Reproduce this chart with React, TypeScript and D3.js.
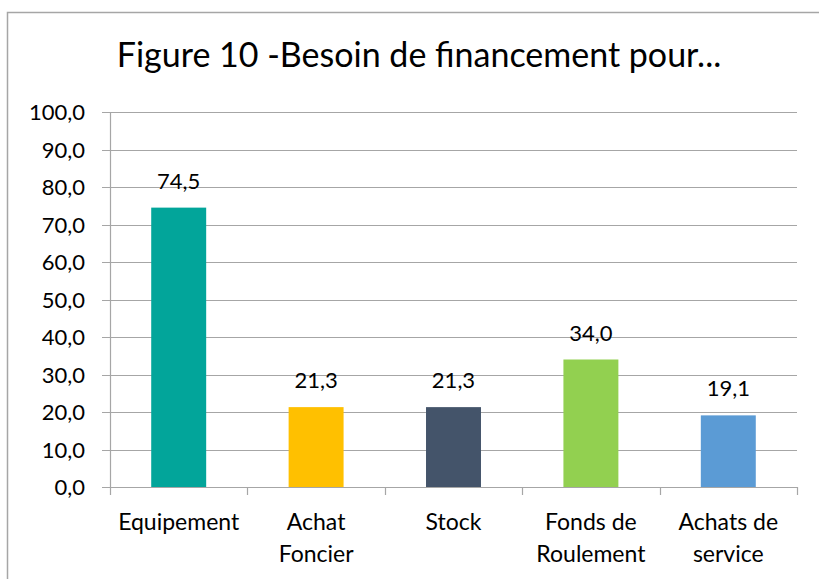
import React, { useEffect, useRef } from 'react';
import * as d3 from 'd3';

// Data
const categories: string[][] = [
  ['Equipement'],
  ['Achat', 'Foncier'],
  ['Stock'],
  ['Fonds de', 'Roulement'],
  ['Achats de', 'service'],
];
const values = [74.5, 21.3, 21.3, 34.0, 19.1];
const colors = ['#02A59A', '#FFC000', '#44546A', '#92D050', '#5B9BD5'];
const yTicks = [0, 10, 20, 30, 40, 50, 60, 70, 80, 90, 100];

const W = 819;
const H = 579;
const FONT = 'Lato, "Open Sans", sans-serif';

const fmt = (v: number) => v.toFixed(1).replace('.', ',');

const App = () => {
  const svgRef = useRef<SVGSVGElement>(null);

  useEffect(() => {
    const svg = d3.select(svgRef.current);
    svg.selectAll('*').remove();

    const left = 110;
    const right = 797;
    const top = 112;
    const bottom = 487;

    const x = d3.scaleBand<number>()
      .domain(d3.range(values.length))
      .range([left, right])
      .paddingInner(0.6)
      .paddingOuter(0.3);
    const y = d3.scaleLinear().domain([0, 100]).range([bottom, top]);

    // chart border
    svg.append('rect')
      .attr('x', 7.5).attr('y', 12.5)
      .attr('width', W).attr('height', H)
      .attr('fill', 'white')
      .attr('stroke', '#a6a6a6')
      .attr('stroke-width', 1.5);

    // title
    svg.append('text')
      .attr('x', 419).attr('y', 67)
      .attr('text-anchor', 'middle')
      .attr('font-family', FONT)
      .attr('font-size', 34)
      .attr('fill', '#000')
      .text('Figure 10 -Besoin de financement pour...');

    // gridlines + y ticks
    svg.append('g').selectAll('line')
      .data(yTicks)
      .enter().append('line')
      .attr('x1', left - 8).attr('x2', right)
      .attr('y1', d => Math.round(y(d)) + 0.5)
      .attr('y2', d => Math.round(y(d)) + 0.5)
      .attr('stroke', '#a6a6a6')
      .attr('stroke-width', 1.2);

    svg.append('g').selectAll('text')
      .data(yTicks)
      .enter().append('text')
      .attr('x', 85)
      .attr('y', d => y(d) + 8)
      .attr('text-anchor', 'end')
      .attr('font-family', FONT)
      .attr('font-size', 22)
      .attr('fill', '#000')
      .text(d => fmt(d));

    // y axis line
    svg.append('line')
      .attr('x1', left + 0.5).attr('x2', left + 0.5)
      .attr('y1', top).attr('y2', bottom)
      .attr('stroke', '#a6a6a6')
      .attr('stroke-width', 1.2);

    // category ticks
    const step = (right - left) / values.length;
    svg.append('g').selectAll('line')
      .data(d3.range(values.length + 1))
      .enter().append('line')
      .attr('x1', i => Math.round(left + i * step) + 0.5)
      .attr('x2', i => Math.round(left + i * step) + 0.5)
      .attr('y1', bottom).attr('y2', bottom + 8)
      .attr('stroke', '#a6a6a6')
      .attr('stroke-width', 1.2);

    // bars
    svg.append('g').selectAll('rect')
      .data(values)
      .enter().append('rect')
      .attr('x', (d, i) => x(i)!)
      .attr('width', x.bandwidth())
      .attr('y', d => y(d))
      .attr('height', d => bottom - y(d))
      .attr('fill', (d, i) => colors[i]);

    // x axis line on top of bars
    svg.append('line')
      .attr('x1', left).attr('x2', right)
      .attr('y1', bottom + 0.5).attr('y2', bottom + 0.5)
      .attr('stroke', '#a6a6a6')
      .attr('stroke-width', 1.2);

    // value labels
    svg.append('g').selectAll('text')
      .data(values)
      .enter().append('text')
      .attr('x', (d, i) => x(i)! + x.bandwidth() / 2)
      .attr('y', d => y(d) - 19)
      .attr('text-anchor', 'middle')
      .attr('font-family', FONT)
      .attr('font-size', 22)
      .attr('fill', '#000')
      .text(d => fmt(d));

    // category labels
    const labels = svg.append('g').selectAll('text')
      .data(categories)
      .enter().append('text')
      .attr('x', (d, i) => x(i)! + x.bandwidth() / 2)
      .attr('y', 530)
      .attr('text-anchor', 'middle')
      .attr('font-family', FONT)
      .attr('font-size', 23)
      .attr('fill', '#000');
    labels.selectAll('tspan')
      .data((d, i) => d.map(t => ({ t, cx: x(i)! + x.bandwidth() / 2 })))
      .enter().append('tspan')
      .attr('x', d => d.cx)
      .attr('dy', (d, j) => (j === 0 ? 0 : 32))
      .text(d => d.t);
  }, []);

  return (
    <svg
      ref={svgRef}
      width={W}
      height={H}
      style={{ position: 'absolute', left: 0, top: 0, background: 'white' }}
    />
  );
};

export default App;
